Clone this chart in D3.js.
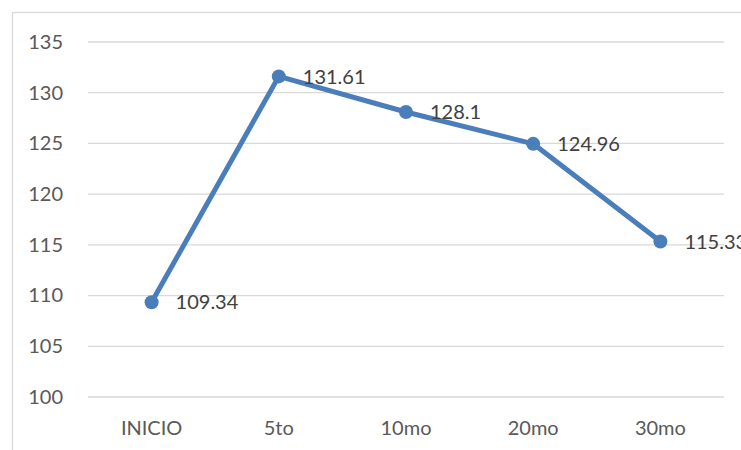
<!DOCTYPE html>
<html>
<head>
<meta charset="utf-8">
<script src="https://cdn.jsdelivr.net/npm/d3@7"></script>
<style>
  body { margin: 0; background: #fff; }
  text { font-family: Lato, "Liberation Sans", sans-serif; }
</style>
</head>
<body>
<div id="chart"></div>
<script>
// data
var categories = ["INICIO", "5to", "10mo", "20mo", "30mo"];
var values = [109.34, 131.61, 128.1, 124.96, 115.33];
var yTicks = [100, 105, 110, 115, 120, 125, 130, 135];

var W = 741, H = 450;
var margin = {top: 42, right: 17, bottom: 53, left: 88};
var width = W - margin.left - margin.right,
    height = H - margin.top - margin.bottom;

var svg = d3.select("#chart")
  .append("svg")
  .attr("width", W)
  .attr("height", H);

// chart frame (runs off the right and bottom edge)
svg.append("rect")
  .attr("x", 12.5)
  .attr("y", 12.5)
  .attr("width", W + 50)
  .attr("height", H + 50)
  .attr("fill", "none")
  .attr("stroke", "#d9d9d9")
  .attr("stroke-width", 1.3);

var g = svg.append("g")
  .attr("transform", "translate(" + margin.left + "," + margin.top + ")");

var x = d3.scaleBand()
  .domain(categories)
  .range([0, width]);

var y = d3.scaleLinear()
  .domain([100, 135])
  .range([height, 0]);

// gridlines
g.selectAll("grid")
  .data(yTicks)
  .enter()
  .append("line")
  .attr("x1", 0)
  .attr("x2", width)
  .attr("y1", function(d){ return y(d) })
  .attr("y2", function(d){ return y(d) })
  .attr("stroke", "#d9d9d9")
  .attr("stroke-width", 1.3);

// Y axis
var yAxis = g.append("g")
  .call(d3.axisLeft(y).tickValues(yTicks).tickSize(0).tickPadding(25));
yAxis.select(".domain").remove();
yAxis.selectAll("text")
  .style("font-size", "20px")
  .attr("fill", "#595959");

// X axis
var xAxis = g.append("g")
  .attr("transform", "translate(0," + height + ")")
  .call(d3.axisBottom(x).tickSize(0).tickPadding(24));
xAxis.select(".domain").remove();
xAxis.selectAll("text")
  .style("font-size", "20px")
  .attr("fill", "#595959");

var cx = function(d, i){ return x(categories[i]) + x.bandwidth() / 2 };

// the line
var line = d3.line()
  .x(function(d, i){ return cx(d, i) })
  .y(function(d){ return y(d) });

g.append("path")
  .datum(values)
  .attr("d", line)
  .attr("fill", "none")
  .attr("stroke", "#4a7ebb")
  .attr("stroke-width", 5)
  .attr("stroke-linejoin", "round");

// the points
g.selectAll("dots")
  .data(values)
  .enter()
  .append("circle")
  .attr("cx", cx)
  .attr("cy", function(d){ return y(d) })
  .attr("r", 7)
  .attr("fill", "#4a7ebb");

// data labels to the right of each point
g.selectAll("labels")
  .data(values)
  .enter()
  .append("text")
  .attr("x", function(d, i){ return cx(d, i) + 24 })
  .attr("y", function(d){ return y(d) })
  .attr("dy", "0.36em")
  .text(function(d){ return d })
  .style("font-size", "20px")
  .attr("fill", "#404040");
</script>
</body>
</html>
